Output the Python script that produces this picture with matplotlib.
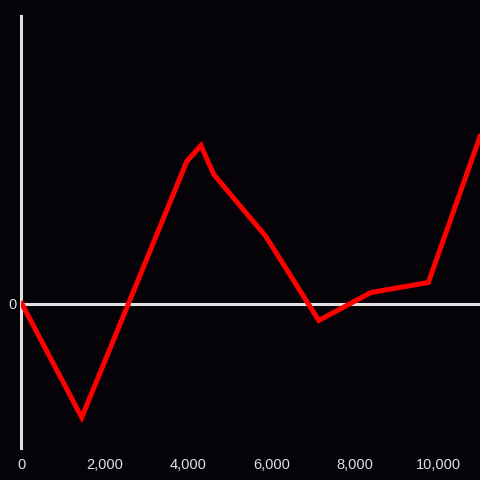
import matplotlib
matplotlib.use('Agg')
import matplotlib.pyplot as plt
from matplotlib.ticker import FuncFormatter

### data
x_vals = [0, 1440, 3960, 4300, 4610, 5860, 7130, 8380, 9760, 11000]
y_vals = [0, -114, 142, 158, 129, 67, -17, 11, 21, 167]
x_ticks = [0, 2000, 4000, 6000, 8000, 10000]
y_ticks = [0]

bg      = '#050307'
fg      = '#e0e0e0'

plt.rcParams['font.family'] = ['Liberation Sans', 'DejaVu Sans']

fig = plt.figure(figsize=(4.8, 4.8), dpi=100, facecolor=bg)
ax  = fig.add_axes([20.5/480, 32/480, 459.5/480, 432/480], facecolor=bg)

ax.plot(x_vals, y_vals, color='#ff0000', linewidth=3.6, solid_joinstyle='miter', zorder=3)
ax.axhline(0, color=fg, linewidth=2.2, zorder=2)

ax.set_xlim(-30, 11000)
ax.set_ylim(-144.5, 287.5)

for s in ['top', 'right', 'bottom']:
    ax.spines[s].set_visible(False)
ax.spines['left'].set_color(fg)
ax.spines['left'].set_linewidth(2.2)

ax.set_xticks(x_ticks)
ax.set_yticks(y_ticks)
ax.xaxis.set_major_formatter(FuncFormatter(lambda v, p: '{:,.0f}'.format(v)))
ax.tick_params(axis='both', length=0, colors=fg, labelsize=10.5)
ax.tick_params(axis='x', pad=7)
ax.tick_params(axis='y', pad=3)

fig.savefig('out.png', dpi=100, facecolor=bg)
